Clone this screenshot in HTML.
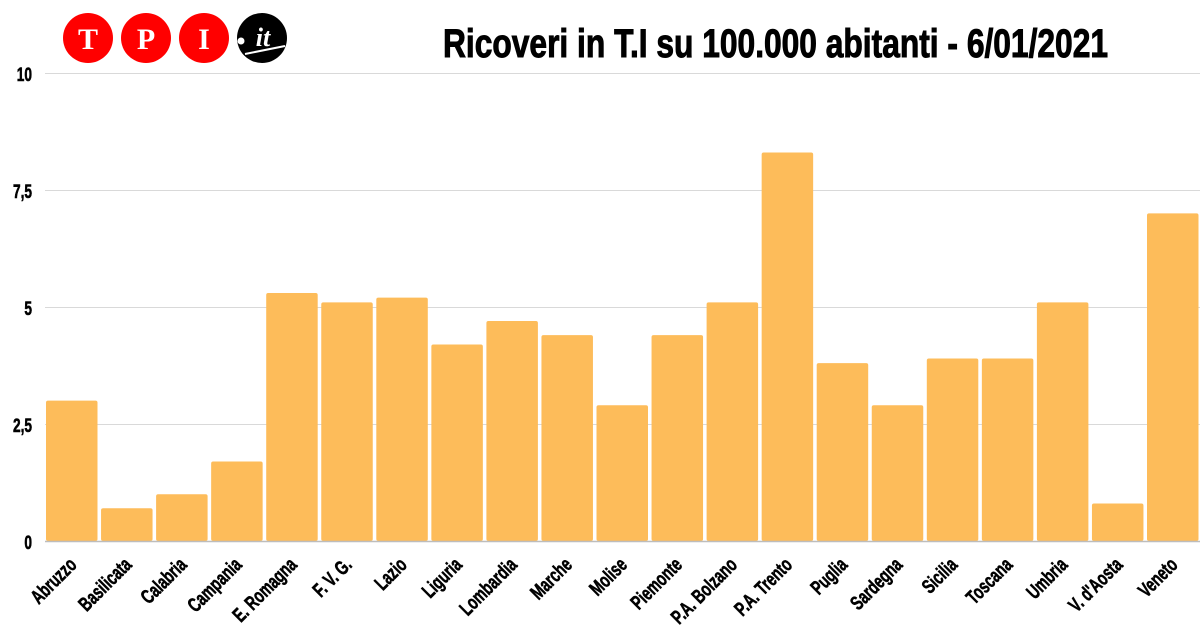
<!DOCTYPE html>
<html><head><meta charset="utf-8"><style>
html,body{margin:0;padding:0;background:#fff;}
svg{display:block;font-family:"Liberation Sans",sans-serif;font-weight:bold;}
</style></head><body>
<svg width="1200" height="630" viewBox="0 0 1200 630" xmlns="http://www.w3.org/2000/svg">
<rect width="1200" height="630" fill="#fff"/>
<g stroke="#d9d9d9" stroke-width="1">
<line x1="45" y1="73.5" x2="1200" y2="73.5"/>
<line x1="45" y1="190.5" x2="1200" y2="190.5"/>
<line x1="45" y1="307.5" x2="1200" y2="307.5"/>
<line x1="45" y1="424.5" x2="1200" y2="424.5"/>
</g>
<g font-size="19" fill="#000" stroke="#000" stroke-width="0.6" text-anchor="end">
<text x="32" y="81" transform="translate(32 0) scale(0.72 1) translate(-32 0)">10</text>
<text x="32" y="198" transform="translate(32 0) scale(0.72 1) translate(-32 0)">7,5</text>
<text x="32" y="315" transform="translate(32 0) scale(0.72 1) translate(-32 0)">5</text>
<text x="32" y="432" transform="translate(32 0) scale(0.72 1) translate(-32 0)">2,5</text>
<text x="32" y="549" transform="translate(32 0) scale(0.72 1) translate(-32 0)">0</text>
</g>
<g id="bars" fill="#fdbc5a"></g>
<line x1="45" y1="541.5" x2="1200" y2="541.5" stroke="#bdbdbd" stroke-width="1.5"/>
<g id="labels" font-size="20" fill="#000" stroke="#000" stroke-width="0.6" text-anchor="end"></g>
<g>
<circle cx="88" cy="38" r="25" fill="#f00"/>
<circle cx="146" cy="38" r="25" fill="#f00"/>
<circle cx="204" cy="38" r="25" fill="#f00"/>
<circle cx="262" cy="38" r="25" fill="#000"/>
<g font-family="'Liberation Serif',serif" font-size="30" fill="#fff" text-anchor="middle">
<text x="88" y="49">T</text><text x="146" y="49">P</text><text x="204" y="49">I</text>
</g>
<circle cx="241" cy="41" r="3.5" fill="#fff"/>
<text x="263" y="46" font-family="'Liberation Serif',serif" font-style="italic" font-size="26" fill="#fff" text-anchor="middle">it</text>
<path d="M245 54 Q265 50 285 46" stroke="#fff" stroke-width="2" fill="none"/>
</g>
<text x="443" y="57" font-size="40" fill="#000" stroke="#000" stroke-width="1" textLength="665" lengthAdjust="spacingAndGlyphs">Ricoveri in T.I su 100.000 abitanti - 6/01/2021</text>
<script>
var names=["Abruzzo","Basilicata","Calabria","Campania","E. Romagna","F. V. G.","Lazio","Liguria","Lombardia","Marche","Molise","Piemonte","P.A. Bolzano","P.A. Trento","Puglia","Sardegna","Sicilia","Toscana","Umbria","V. d'Aosta","Veneto"];
var vals=[3.0,0.7,1.0,1.7,5.3,5.1,5.2,4.2,4.7,4.4,2.9,4.4,5.1,8.3,3.8,2.9,3.9,3.9,5.1,0.8,7.0];
var ns="http://www.w3.org/2000/svg",b=document.getElementById("bars"),l=document.getElementById("labels");
for(var i=0;i<21;i++){
 var x=46+i*55.05,h=vals[i]*46.8;
 var r=document.createElementNS(ns,"rect");
 r.setAttribute("x",x);r.setAttribute("y",541-h);r.setAttribute("width",51.5);r.setAttribute("height",h);r.setAttribute("rx",2);
 b.appendChild(r);
 var cx=x+25.75+6,cy=566;
 var t=document.createElementNS(ns,"text");
 t.setAttribute("x",0);t.setAttribute("y",0);
 t.setAttribute("transform","translate("+cx+" "+cy+") rotate(-45) scale(0.7 1)");
 t.textContent=names[i];
 l.appendChild(t);
}
</script>
</svg>
</body></html>
